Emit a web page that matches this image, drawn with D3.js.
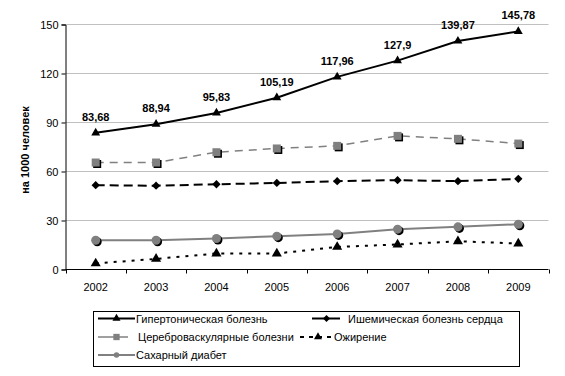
<!DOCTYPE html>
<html><head><meta charset="utf-8">
<script src="https://cdn.jsdelivr.net/npm/d3@7"></script>
<style>
html,body{margin:0;padding:0;background:#fff;}
text{font-family:"Liberation Sans",Arial,sans-serif;}
</style></head>
<body><svg id="c" width="565" height="376"></svg>
<script>
const years = ["2002","2003","2004","2005","2006","2007","2008","2009"];
const hypertension = [83.68, 88.94, 95.83, 105.19, 117.96, 127.9, 139.87, 145.78];
const ischemic = [51.6, 51.3, 52.2, 53.0, 54.1, 54.7, 54.1, 55.5];
const cerebro = [65.5, 65.5, 71.8, 74.1, 75.7, 81.8, 80.0, 77.1];
const obesity = [3.7, 6.5, 9.8, 9.8, 13.8, 15.3, 17.3, 15.9];
const diabetes = [17.9, 17.9, 19.0, 20.4, 21.8, 24.7, 26.1, 27.7];
const hyperLabels = ["83,68","88,94","95,83","105,19","117,96","127,9","139,87","145,78"];
const yTicks = [0, 30, 60, 90, 120, 150];
const yTitle = "на 1000 человек";

const series = [
  {name:"Гипертоническая болезнь", values:hypertension, color:"#000", width:2, dash:null, marker:"tri", mcolor:"#000", shadow:false},
  {name:"Ишемическая болезнь сердца", values:ischemic, color:"#000", width:2, dash:"9,5", marker:"diamond", mcolor:"#000", shadow:false},
  {name:"Цереброваскулярные болезни", values:cerebro, color:"#808080", width:1.5, dash:"8,6", marker:"square", mcolor:"#808080", shadow:true},
  {name:"Ожирение", values:obesity, color:"#000", width:2, dash:"3,6", marker:"bigtri", mcolor:"#000", shadow:false},
  {name:"Сахарный диабет", values:diabetes, color:"#808080", width:2, dash:null, marker:"circle", mcolor:"#808080", shadow:true}
];

const svg = d3.select("#c");
const pLeft = 65.5, pRight = 548.5, pTop = 24.5, pBottom = 269.5;
const x = d3.scaleBand().domain(years).range([pLeft, pRight]);
const y = d3.scaleLinear().domain([0,150]).range([pBottom, pTop]);

// gridlines
svg.append("g").selectAll("line").data(yTicks.filter(d=>d>0)).join("line")
  .attr("x1", pLeft).attr("x2", pRight).attr("y1", d=>y(d)).attr("y2", d=>y(d))
  .attr("stroke", "#c0c0c0").attr("stroke-width", 1);

// y axis
const ya = svg.append("g").attr("transform", `translate(${pLeft},0)`)
  .call(d3.axisLeft(y).tickValues(yTicks).tickSize(4).tickPadding(3));
ya.selectAll("path").attr("stroke","#000");
ya.selectAll("line").attr("stroke","#000");
ya.selectAll("text").attr("font-size","11px").attr("fill","#000").attr("font-family","Liberation Sans, Arial, sans-serif");

// x axis
const xa = svg.append("g").attr("transform", `translate(0,${pBottom})`)
  .call(d3.axisBottom(x).tickSize(0).tickPadding(14));
xa.select("path").remove();
xa.selectAll("text").attr("font-size","11px").attr("fill","#000").attr("font-family","Liberation Sans, Arial, sans-serif");
svg.append("line").attr("x1", pLeft).attr("x2", pRight).attr("y1", pBottom).attr("y2", pBottom).attr("stroke","#000");
const edges = years.map(d=>x(d)).concat([x(years[years.length-1]) + x.bandwidth()]);
svg.append("g").selectAll("line").data(edges).join("line")
  .attr("x1", d=>Math.round(d)+0.5).attr("x2", d=>Math.round(d)+0.5)
  .attr("y1", pBottom).attr("y2", pBottom+4).attr("stroke","#000");

// y title
svg.append("text").attr("transform", "translate(29,150) rotate(-90)")
  .attr("text-anchor","middle").attr("font-size","11px").attr("font-weight","bold").text(yTitle);

const cx = d => x(d) + x.bandwidth()/2;

function markerPath(type){
  const sym = {
    tri: d3.symbol(d3.symbolTriangle, 34),
    bigtri: d3.symbol(d3.symbolTriangle, 44),
    diamond: d3.symbol(d3.symbolDiamond2, 44),
    square: d3.symbol(d3.symbolSquare, 64),
    circle: d3.symbol(d3.symbolCircle, 64)
  };
  return sym[type]();
}

function drawMarker(g, type, color, shadow, px, py){
  if(shadow){
    g.append("path").attr("d", markerPath(type)).attr("transform", `translate(${px+1.5},${py+1.5})`).attr("fill","#000");
  }
  g.append("path").attr("d", markerPath(type)).attr("transform", `translate(${px},${py})`).attr("fill", color);
}

const line = d3.line().x(d=>cx(d.year)).y(d=>y(d.v));
const order = [4,3,1,2,0];
order.forEach(i=>{
  const s = series[i];
  const pts = years.map((yr,j)=>({year:yr, v:s.values[j]}));
  const g = svg.append("g");
  g.append("path").datum(pts).attr("d", line).attr("fill","none")
    .attr("stroke", s.color).attr("stroke-width", s.width)
    .attr("stroke-dasharray", s.dash);
  pts.forEach(p=>drawMarker(g, s.marker, s.mcolor, s.shadow, cx(p.year), y(p.v)));
});

// data labels
svg.append("g").selectAll("text").data(years).join("text")
  .attr("x", d=>cx(d)).attr("y", (d,i)=>y(hypertension[i]) - 12)
  .attr("text-anchor","middle").attr("font-size","11px").attr("font-weight","bold")
  .text((d,i)=>hyperLabels[i]);

// legend
const lg = svg.append("g");
lg.append("rect").attr("x",93.5).attr("y",311.5).attr("width",426).attr("height",55)
  .attr("fill","#fff").attr("stroke","#000").attr("stroke-width",1);
const legendPos = [
  {i:0, x1:98, x2:135, mx:116.5, tx:136, y:318.5},
  {i:1, x1:312, x2:340, mx:326.5, tx:348, y:318.5},
  {i:2, x1:98, x2:128, mx:116.5, tx:138, y:337},
  {i:3, x1:300, x2:332, mx:318, tx:334, y:337},
  {i:4, x1:98, x2:135, mx:116.5, tx:136, y:355}
];
legendPos.forEach(p=>{
  const s = series[p.i];
  lg.append("line").attr("x1",p.x1).attr("x2",p.x2).attr("y1",p.y).attr("y2",p.y)
    .attr("stroke", s.color).attr("stroke-width", s.width)
    .attr("stroke-dasharray", p.i===3 ? "4,5" : null);
  const small = {tri:"tri", bigtri:"tri", diamond:"diamond", square:"square", circle:"circle"}[s.marker];
  const size = {tri:28, diamond:32, square:40, circle:24}[small];
  const symT = {tri:d3.symbolTriangle, diamond:d3.symbolDiamond2, square:d3.symbolSquare, circle:d3.symbolCircle}[small];
  lg.append("path").attr("d", d3.symbol(symT, size)()).attr("transform",`translate(${p.mx},${p.y})`).attr("fill", s.mcolor);
  lg.append("text").attr("x",p.tx).attr("y",p.y+4).attr("font-size","11px").text(s.name);
});
</script></body></html>
